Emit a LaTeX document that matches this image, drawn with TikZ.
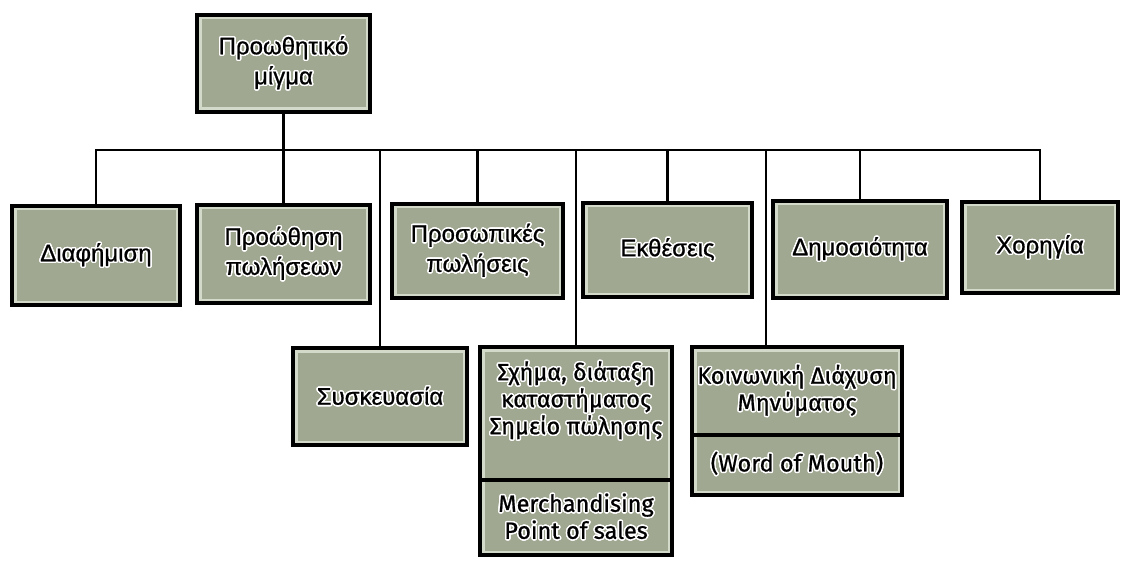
\documentclass[tikz,border=0pt]{standalone}
\usepackage{fontspec}
\setmainfont{Liberation Sans}[FakeBold=0.8]
\newfontfamily\gillf{Fira Sans}[FakeBold=0.8]
\usepackage[copies]{contour}
\contourlength{1.5pt}
\definecolor{boxc}{RGB}{160,168,146}
\definecolor{bandc}{RGB}{212,218,202}
\newcommand{\halo}[1]{\contour{white}{#1}}
\begin{document}
\begin{tikzpicture}[x=1pt,y=-1pt,
  box/.style={draw=black, line width=3.2pt, fill=boxc, inner sep=0pt, align=center,
    font=\fontsize{24}{30}\selectfont,
    path picture={\draw[bandc, line width=9pt] (path picture bounding box.south west) rectangle (path picture bounding box.north east);}},
  sz/.style 2 args={minimum width=#1pt, minimum height=#2pt},
  conn/.style={draw=black, line width=2.4pt},
  lbl/.style={align=center, inner sep=0pt, font=\gillf\fontsize{23.5}{27}\selectfont},
  divider/.style={draw=black, line width=3.2pt}]
\fill[white] (0,0) rectangle (1121,561);
\useasboundingbox (0,0) rectangle (1121,561);

\node[box, sz={173}{97}] (top) at (283.5,63.5) {\halo{Προωθητικό}\\\halo{μίγμα}};

\node[box, sz={168}{99}] (diaf) at (96,255.5) {\halo{Διαφήμιση}};
\node[box, sz={173}{98}] (proo) at (283.5,254) {\halo{Προώθηση}\\\halo{πωλήσεων}};
\node[box, sz={171}{94}] (pros) at (477.5,251) {\halo{Προσωπικές}\\\halo{πωλήσεις}};
\node[box, sz={169}{94}] (ekth) at (667.5,250) {\halo{Εκθέσεις}};
\node[box, sz={174}{97}] (dim) at (860,249.5) {\halo{Δημοσιότητα}};
\node[box, sz={156}{91}] (xor) at (1040,247.5) {\halo{Χορηγία}};

\node[box, sz={174}{97}] (sysk) at (380,396.5) {\halo{Συσκευασία}};

\node[box, sz={192}{208}] (sxima) at (576,451) {};
\node[lbl] (sximaT) at (576,401) {\halo{Σχήμα, διάταξη}\\\halo{καταστήματος}\\\halo{Σημείο πώλησης}};
\node[lbl] (sximaB) at (576,517) {\halo{Merchandising}\\\halo{Point of sales}};
\coordinate (sdiv) at (0,480);
\draw[divider] (sxima.west |- sdiv) -- (sxima.east |- sdiv);

\node[box, sz={210}{148}] (koin) at (797,421) {};
\node[lbl] (koinT) at (797,391) {\halo{Κοινωνική Διάχυση}\\\halo{Μηνύματος}};
\node[lbl] (koinB) at (797,464) {\halo{(Word of Mouth)}};
\coordinate (kdiv) at (0,435);
\draw[divider] (koin.west |- kdiv) -- (koin.east |- kdiv);

\coordinate (bus) at (0,150);
\coordinate (kx) at (766,0);
\draw[conn] (diaf.north) -- (diaf.north |- bus) -- (xor.north |- bus) -- (xor.north);
\draw[conn] (top.south) -- (top.south |- bus);
\draw[conn] (proo.north) -- (proo.north |- bus);
\draw[conn] (pros.north) -- (pros.north |- bus);
\draw[conn] (ekth.north) -- (ekth.north |- bus);
\draw[conn] (dim.north) -- (dim.north |- bus);
\draw[conn] (sysk.north) -- (sysk.north |- bus);
\draw[conn] (sxima.north) -- (sxima.north |- bus);
\draw[conn] (kx |- koin.north) -- (kx |- bus);
\end{tikzpicture}
\end{document}
